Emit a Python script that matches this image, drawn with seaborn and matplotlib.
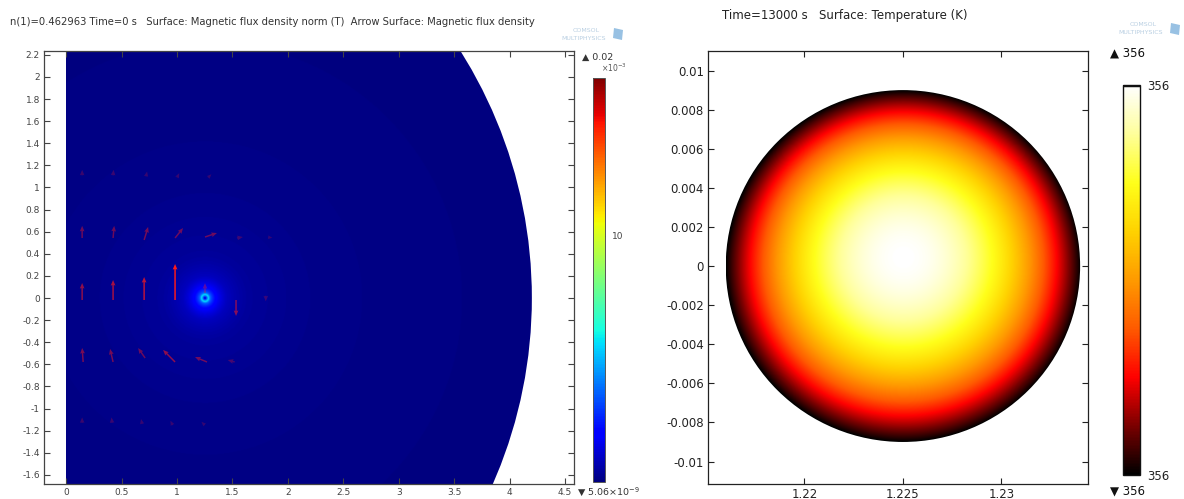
import numpy as np
import matplotlib
matplotlib.use('Agg')
import matplotlib.pyplot as plt
from matplotlib.patches import Circle, Polygon
import seaborn as sns

sns.set_theme(style='ticks')
plt.rcParams['font.family'] = ['DejaVu Sans']

# ---- left plot: magnetic flux density --------------------------------------
b_title = ("n(1)=0.462963 Time=0 s   Surface: Magnetic flux density norm (T)  "
           "Arrow Surface: Magnetic flux density")
b_xticks = [0, 0.5, 1, 1.5, 2, 2.5, 3, 3.5, 4, 4.5]
b_yticks = [2.2, 2, 1.8, 1.6, 1.4, 1.2, 1, 0.8, 0.6, 0.4, 0.2, 0,
            -0.2, -0.4, -0.6, -0.8, -1, -1.2, -1.4, -1.6]
b_xlim = (-0.2, 4.58)
b_ylim = (-1.683, 2.235)
domain_r = 4.2
coil_x, coil_y = 1.252, 0.0
# |B| against distance from the coil
prof_dist = [0, 0.012, 0.03, 0.05, 0.1, 0.2, 0.4, 1.0, 2.0, 5.0]
prof_b = [0.0008, 0.003, 0.0058, 0.0035, 0.0019, 0.0009, 0.0004, 0.00018, 0.00008, 0.00001]
b_min, b_max = 5.06e-9, 0.0164

# arrows: tail x, tail y, x and y component
arr_x = [0.144, 0.423, 0.703, 0.982, 1.252, 1.532,
         0.144, 0.423, 0.703, 0.982, 1.252, 1.54,
         0.153, 0.423, 0.712, 0.982, 1.27, 1.52,
         0.144, 0.423, 0.72, 1.0, 1.28,
         0.144, 0.414, 0.685, 0.96, 1.25,
         1.80, 1.82]
arr_y = [-0.018, -0.018, -0.018, -0.018, 0.045, -0.018,
         0.543, 0.543, 0.525, 0.543, 0.552, 0.543,
         -0.579, -0.579, -0.543, -0.579, -0.579, -0.579,
         1.11, 1.11, 1.10, 1.09, 1.09,
         -1.13, -1.13, -1.14, -1.15, -1.15,
         0.02, 0.55]
arr_u = [0, 0, 0, 0, 0, 0,
         0, 0.01, 0.036, 0.072, 0.108, 0.054,
         -0.009, -0.027, -0.063, -0.108, -0.108, -0.063,
         0, 0.005, 0.01, 0.02, 0.03,
         0, -0.005, -0.01, -0.02, -0.03,
         0, 0.04]
arr_v = [0.154, 0.181, 0.208, 0.326, 0.09, -0.145,
         0.11, 0.11, 0.118, 0.09, 0.036, 0.009,
         0.127, 0.118, 0.09, 0.109, 0.045, 0.018,
         0.05, 0.05, 0.045, 0.04, 0.03,
         0.05, 0.05, 0.045, 0.04, 0.03,
         -0.05, -0.005]

# ---- right plot: temperature -----------------------------------------------
t_title = "Time=13000 s   Surface: Temperature (K)"
t_xticks = [1.22, 1.225, 1.23]
t_yticks = [0.01, 0.008, 0.006, 0.004, 0.002, 0, -0.002, -0.004, -0.006, -0.008, -0.01]
t_xlim = (1.2151, 1.2344)
t_ylim = (-0.01115, 0.011)
disk_x, disk_y, disk_r = 1.225, 0.0, 0.009
t_surface, t_center = 355.7, 356.3

W, H = 1184, 499
fig = plt.figure(figsize=(W / 100, H / 100), dpi=100)


def box(x0, y0, x1, y1):
    return [x0 / W, 1 - y1 / H, (x1 - x0) / W, (y1 - y0) / H]


def style_axes(ax, size, col):
    ax.tick_params(direction='in', length=4, width=0.8, top=True, right=True,
                   labelsize=size, labelcolor=col, color=col, pad=3)
    for s in ax.spines.values():
        s.set_color(col)
        s.set_linewidth(0.9)


# left panel
ax1 = fig.add_axes(box(44, 51, 574, 484))
gx = np.linspace(0, 4.6, 700)
gy = np.linspace(b_ylim[0], b_ylim[1], 600)
X, Y = np.meshgrid(gx, gy)
dist = np.hypot(X - coil_x, Y - coil_y)
field = np.exp(np.interp(dist, prof_dist, np.log(prof_b)))
im1 = ax1.imshow(field, origin='lower', extent=[gx[0], gx[-1], gy[0], gy[-1]],
                 cmap='jet', vmin=b_min, vmax=b_max, interpolation='bilinear',
                 aspect='auto')
im1.set_clip_path(Circle((0, 0), domain_r, transform=ax1.transData))

mag = np.hypot(arr_u, arr_v)
alpha = 0.2 + 0.8 * np.clip((mag - 0.04) / 0.25, 0, 1)
cols = np.zeros((len(arr_x), 4))
cols[:, 0] = 1.0
cols[:, 1] = 0.1
cols[:, 2] = 0.1
cols[:, 3] = alpha
ax1.quiver(arr_x, arr_y, arr_u, arr_v, color=cols, angles='xy',
           scale_units='xy', scale=1, width=0.0028, headwidth=3.2,
           headlength=3.8, headaxislength=3.4)

ax1.set_xlim(*b_xlim)
ax1.set_ylim(*b_ylim)
ax1.set_xticks(b_xticks)
ax1.set_xticklabels([f"{v:g}" for v in b_xticks])
ax1.set_yticks(b_yticks)
ax1.set_yticklabels([f"{v:g}" for v in b_yticks])
style_axes(ax1, 6.5, '#444444')

cax1 = fig.add_axes(box(593, 78, 605, 482))
cb1 = fig.colorbar(im1, cax=cax1)
cb1.set_ticks([0.01])
cb1.set_ticklabels(['10'])
cax1.tick_params(direction='in', length=2, width=0.8, left=True, right=True,
                 labelsize=6.5, labelcolor='#444444', color='#222222', pad=5)
cb1.outline.set_edgecolor('#555555')
cb1.outline.set_linewidth(0.7)

fig.text(10 / W, 1 - 22 / H, b_title, fontsize=7.2, color='#333333', va='center')
fig.text(582 / W, 1 - 57 / H, '▲ 0.02', fontsize=6.8, color='#333333', va='center')
fig.text(601 / W, 1 - 68 / H, r'$\times10^{-3}$', fontsize=5.5, color='#555555', va='center')
fig.text(577 / W, 1 - 492 / H, '▼ 5.06' + r'$\times10^{-9}$', fontsize=6.8,
         color='#333333', va='center')

# right panel
ax2 = fig.add_axes(box(708, 51, 1088, 484))
tx = np.linspace(disk_x - disk_r, disk_x + disk_r, 700)
ty = np.linspace(disk_y - disk_r, disk_y + disk_r, 700)
TX, TY = np.meshgrid(tx, ty)
rho2 = ((TX - disk_x) ** 2 + (TY - disk_y) ** 2) / disk_r ** 2
shape = np.clip(1 - rho2, 0, None) * (1 + 0.1 * (TY - disk_y) / disk_r)
shape = shape / shape.max()
temp = t_surface + (t_center - t_surface) * shape

thermal = sns.blend_palette(['#000000', '#7a0000', '#ff0000', '#ff5a00',
                             '#ff9a00', '#ffd200', '#ffff1a', '#ffff9a',
                             '#ffffff'], as_cmap=True)
im2 = ax2.imshow(temp, origin='lower', extent=[tx[0], tx[-1], ty[0], ty[-1]],
                 cmap=thermal, vmin=t_surface, vmax=t_center,
                 interpolation='bilinear', aspect='auto')
im2.set_clip_path(Circle((disk_x, disk_y), disk_r, transform=ax2.transData))
ax2.set_xlim(*t_xlim)
ax2.set_ylim(*t_ylim)
ax2.set_xticks(t_xticks)
ax2.set_xticklabels([f"{v:g}" for v in t_xticks])
ax2.set_yticks(t_yticks)
ax2.set_yticklabels([f"{v:g}" for v in t_yticks])
style_axes(ax2, 8.5, '#222222')

cax2 = fig.add_axes(box(1123, 85, 1140, 475))
cb2 = fig.colorbar(im2, cax=cax2)
cb2.set_ticks([t_surface, t_center])
cb2.set_ticklabels(['356', '356'])
cax2.tick_params(direction='in', length=0, labelsize=8.5, labelcolor='#222222', pad=5)
cb2.outline.set_edgecolor('#111111')
cb2.outline.set_linewidth(1.0)
cax2.axhline(t_center, color='#111111', linewidth=2.5)

fig.text(722 / W, 1 - 15 / H, t_title, fontsize=8.5, color='#222222', va='center')
fig.text(1110 / W, 1 - 53 / H, '▲ 356', fontsize=8.5, color='#111111', va='center')
fig.text(1110 / W, 1 - 491 / H, '▼ 356', fontsize=8.5, color='#111111', va='center')

# faint COMSOL logos
for lx, ly in [(600, 30), (1157, 25)]:
    fig.text(lx / W, 1 - ly / H, 'COMSOL', fontsize=4.5, color='#b9cfe2',
             ha='right', va='center')
    fig.text((lx + 6) / W, 1 - (ly + 8) / H, 'MULTIPHYSICS', fontsize=4.5,
             color='#b9cfe2', ha='right', va='center')
    ix, iy = lx + 14, ly + 4
    icon = Polygon([((ix) / W, 1 - (iy - 6) / H), ((ix + 9) / W, 1 - (iy - 4) / H),
                    ((ix + 8) / W, 1 - (iy + 6) / H), ((ix - 1) / W, 1 - (iy + 4) / H)],
                   closed=True, transform=fig.transFigure, facecolor='#7fb2dc',
                   edgecolor='none', alpha=0.8)
    fig.patches.append(icon)

fig.savefig('out.png', dpi=100)
